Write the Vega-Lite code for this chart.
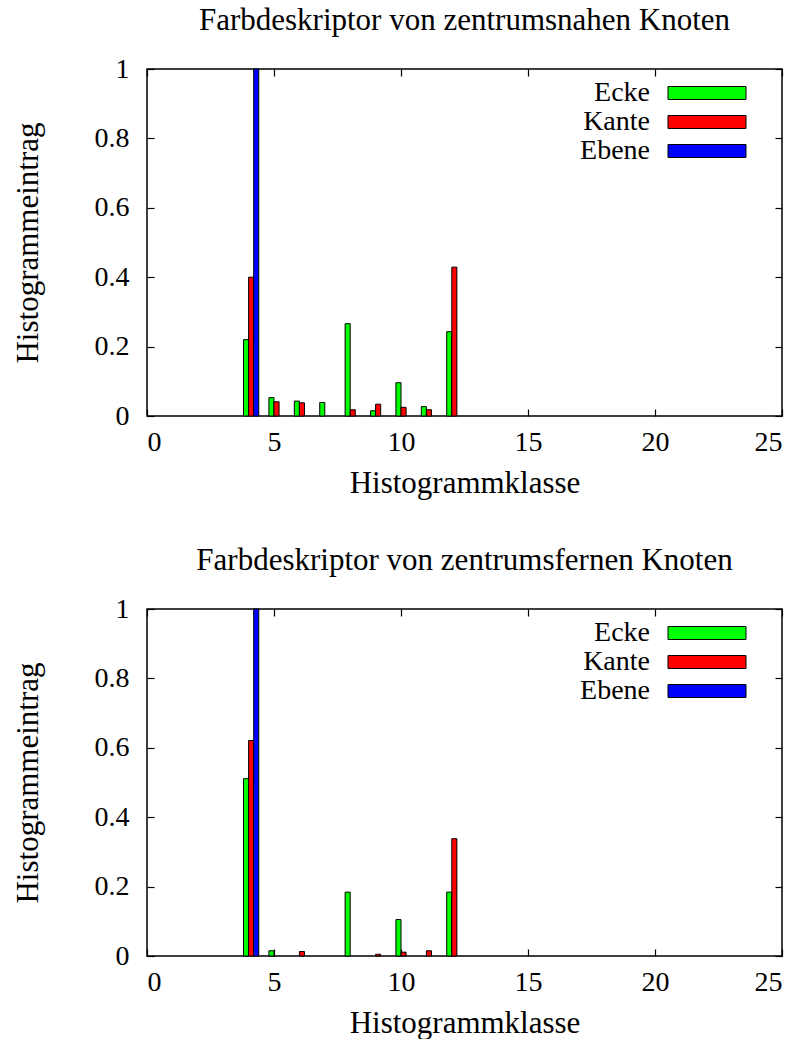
{
  "$schema": "https://vega.github.io/schema/vega-lite/v6.json",
  "background": "white",
  "padding": {"left": 11, "top": 4, "right": 0, "bottom": 0},
  "config": {
    "font": "Liberation Serif",
    "view": {"stroke": "black", "strokeWidth": 1.5},
    "axis": {
      "domain": false,
      "grid": false,
      "ticks": true,
      "tickSize": -7,
      "tickColor": "black",
      "tickWidth": 1.2,
      "labelFont": "Liberation Serif",
      "labelFontSize": 28,
      "labelColor": "black",
      "labelPadding": 19,
      "titleFont": "Liberation Serif",
      "titleFontSize": 31,
      "titleFontWeight": "normal",
      "titleColor": "black"
    },
    "title": {"font": "Liberation Serif", "fontSize": 31, "fontWeight": "normal", "color": "black", "anchor": "middle", "offset": 18},
    "legend": {
      "orient": "none",
      "legendX": 546,
      "legendY": 10,
      "padding": 0,
      "symbolType": "M-3,-0.5H3V0.5H-3Z",
      "symbolSize": 676,
      "symbolStrokeColor": "black",
      "symbolStrokeWidth": 1,
      "symbolOpacity": 1,
      "labelFont": "Liberation Serif",
      "labelFontSize": 28,
      "labelColor": "black",
      "labelAlign": "right",
      "labelOffset": -71,
      "rowPadding": 1
    }
  },
  "datasets": {
    "nahe": [
      {"klasse": 4, "typ": "Ecke", "wert": 0.22},
      {"klasse": 5, "typ": "Ecke", "wert": 0.053},
      {"klasse": 6, "typ": "Ecke", "wert": 0.043},
      {"klasse": 7, "typ": "Ecke", "wert": 0.039},
      {"klasse": 8, "typ": "Ecke", "wert": 0.266},
      {"klasse": 9, "typ": "Ecke", "wert": 0.015},
      {"klasse": 10, "typ": "Ecke", "wert": 0.096},
      {"klasse": 11, "typ": "Ecke", "wert": 0.027},
      {"klasse": 12, "typ": "Ecke", "wert": 0.243},
      {"klasse": 4, "typ": "Kante", "wert": 0.4},
      {"klasse": 5, "typ": "Kante", "wert": 0.041},
      {"klasse": 6, "typ": "Kante", "wert": 0.038},
      {"klasse": 8, "typ": "Kante", "wert": 0.018},
      {"klasse": 9, "typ": "Kante", "wert": 0.034},
      {"klasse": 10, "typ": "Kante", "wert": 0.025},
      {"klasse": 11, "typ": "Kante", "wert": 0.018},
      {"klasse": 12, "typ": "Kante", "wert": 0.429},
      {"klasse": 4, "typ": "Ebene", "wert": 1.0}
    ],
    "ferne": [
      {"klasse": 4, "typ": "Ecke", "wert": 0.511},
      {"klasse": 5, "typ": "Ecke", "wert": 0.015},
      {"klasse": 8, "typ": "Ecke", "wert": 0.184},
      {"klasse": 10, "typ": "Ecke", "wert": 0.105},
      {"klasse": 12, "typ": "Ecke", "wert": 0.184},
      {"klasse": 4, "typ": "Kante", "wert": 0.621},
      {"klasse": 6, "typ": "Kante", "wert": 0.013},
      {"klasse": 9, "typ": "Kante", "wert": 0.005},
      {"klasse": 10, "typ": "Kante", "wert": 0.011},
      {"klasse": 11, "typ": "Kante", "wert": 0.015},
      {"klasse": 12, "typ": "Kante", "wert": 0.338},
      {"klasse": 4, "typ": "Ebene", "wert": 1.0}
    ]
  },
  "resolve": {"scale": {"color": "independent"}, "legend": {"color": "independent"}},
  "spacing": 45,
  "vconcat": [
    {
      "title": "Farbdeskriptor von zentrumsnahen Knoten",
      "width": 635,
      "height": 347,
      "data": {"name": "nahe"},
      "transform": [
        {"calculate": "datum.klasse + (datum.typ === 'Ecke' ? -0.1 : datum.typ === 'Kante' ? 0.1 : 0.3)", "as": "mitte"},
        {"calculate": "datum.mitte - 0.1", "as": "links"},
        {"calculate": "datum.mitte + 0.1", "as": "rechts"}
      ],
      "layer": [
        {
          "mark": {"type": "bar", "stroke": "black", "strokeWidth": 1},
          "encoding": {
            "x": {"field": "links", "type": "quantitative", "scale": {"domain": [0, 25], "nice": false, "zero": false},
                  "axis": {"orient": "bottom", "values": [0, 5, 10, 15, 20, 25], "format": "d", "title": "Histogrammklasse", "titlePadding": 12}},
            "x2": {"field": "rechts"},
            "y": {"field": "wert", "type": "quantitative", "scale": {"domain": [0, 1], "nice": false},
                  "axis": {"orient": "left", "values": [0, 0.2, 0.4, 0.6, 0.8, 1], "format": "~g", "title": "Histogrammeintrag", "labelPadding": 25, "titlePadding": 50}},
            "y2": {"datum": 0},
            "color": {"field": "typ", "type": "nominal", "title": null,
                      "scale": {"domain": ["Ecke", "Kante", "Ebene"], "range": ["#00ff00", "#ff0000", "#0000ff"]}}
          }
        },
        {
          "mark": {"type": "bar", "opacity": 0},
          "encoding": {
            "x": {"field": "links", "type": "quantitative",
                  "axis": {"orient": "top", "values": [0, 5, 10, 15, 20, 25], "labels": false, "title": null}},
            "x2": {"field": "rechts"},
            "y": {"field": "wert", "type": "quantitative",
                  "axis": {"orient": "right", "values": [0, 0.2, 0.4, 0.6, 0.8, 1], "labels": false, "title": null}},
            "y2": {"datum": 0}
          }
        }
      ],
      "resolve": {"axis": {"x": "independent", "y": "independent"}}
    },
    {
      "title": "Farbdeskriptor von zentrumsfernen Knoten",
      "width": 635,
      "height": 347,
      "data": {"name": "ferne"},
      "transform": [
        {"calculate": "datum.klasse + (datum.typ === 'Ecke' ? -0.1 : datum.typ === 'Kante' ? 0.1 : 0.3)", "as": "mitte"},
        {"calculate": "datum.mitte - 0.1", "as": "links"},
        {"calculate": "datum.mitte + 0.1", "as": "rechts"}
      ],
      "layer": [
        {
          "mark": {"type": "bar", "stroke": "black", "strokeWidth": 1},
          "encoding": {
            "x": {"field": "links", "type": "quantitative", "scale": {"domain": [0, 25], "nice": false, "zero": false},
                  "axis": {"orient": "bottom", "values": [0, 5, 10, 15, 20, 25], "format": "d", "title": "Histogrammklasse", "titlePadding": 12}},
            "x2": {"field": "rechts"},
            "y": {"field": "wert", "type": "quantitative", "scale": {"domain": [0, 1], "nice": false},
                  "axis": {"orient": "left", "values": [0, 0.2, 0.4, 0.6, 0.8, 1], "format": "~g", "title": "Histogrammeintrag", "labelPadding": 25, "titlePadding": 50}},
            "y2": {"datum": 0},
            "color": {"field": "typ", "type": "nominal", "title": null,
                      "scale": {"domain": ["Ecke", "Kante", "Ebene"], "range": ["#00ff00", "#ff0000", "#0000ff"]}}
          }
        },
        {
          "mark": {"type": "bar", "opacity": 0},
          "encoding": {
            "x": {"field": "links", "type": "quantitative",
                  "axis": {"orient": "top", "values": [0, 5, 10, 15, 20, 25], "labels": false, "title": null}},
            "x2": {"field": "rechts"},
            "y": {"field": "wert", "type": "quantitative",
                  "axis": {"orient": "right", "values": [0, 0.2, 0.4, 0.6, 0.8, 1], "labels": false, "title": null}},
            "y2": {"datum": 0}
          }
        }
      ],
      "resolve": {"axis": {"x": "independent", "y": "independent"}}
    }
  ]
}
